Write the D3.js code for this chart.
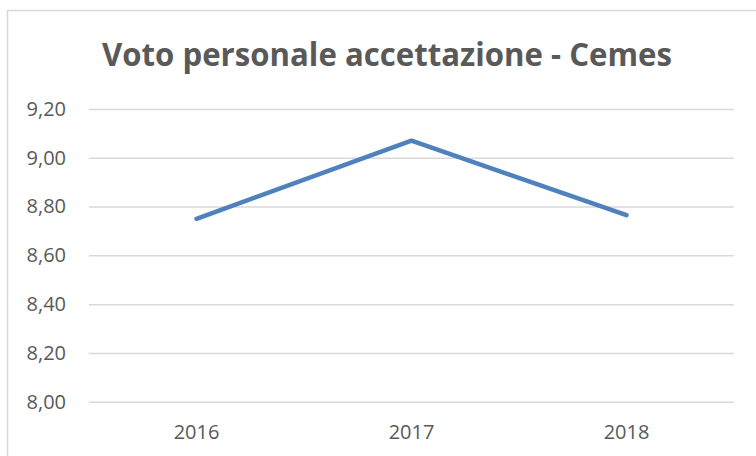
<!DOCTYPE html>
<html><head><meta charset="utf-8">
<script src="https://cdn.jsdelivr.net/npm/d3@7"></script>
<style>html,body{margin:0;padding:0;background:#fff;}svg{display:block;}</style>
</head><body>
<script>
const title = "Voto personale accettazione - Cemes";
const years = ["2016", "2017", "2018"];
const values = [8.75, 9.07, 8.765];
const yTicks = [8.0, 8.2, 8.4, 8.6, 8.8, 9.0, 9.2];

const W = 756, H = 456;
const svg = d3.select("body").append("svg").attr("width", W).attr("height", H);
svg.append("rect").attr("x", 7.5).attr("y", 10.5).attr("width", 760).attr("height", 460)
  .attr("fill", "#fff").attr("stroke", "#d9d9d9").attr("stroke-width", 1.5);

const x = d3.scaleBand().domain(years).range([89, 734]);
const y = d3.scaleLinear().domain([8.0, 9.2]).range([401.7, 109]);
const fmt = v => d3.format(".2f")(v).replace(".", ",");
const font = "'Open Sans', 'Noto Sans', sans-serif";

svg.append("text").attr("x", 387).attr("y", 66).attr("text-anchor", "middle")
  .attr("font-family", font).attr("font-weight", "bold").attr("font-size", 32)
  .attr("textLength", 570).attr("lengthAdjust", "spacingAndGlyphs")
  .attr("fill", "#595959").text(title);

const yAxis = d3.axisLeft(y).tickValues(yTicks).tickSize(-(734 - 89)).tickFormat(fmt).tickPadding(23);
const gy = svg.append("g").attr("transform", "translate(89,0)").call(yAxis);
gy.select(".domain").remove();
gy.selectAll(".tick line").attr("stroke", "#d9d9d9").attr("stroke-width", 1.5);
gy.selectAll(".tick text").attr("font-family", font).attr("font-size", 20).attr("fill", "#595959");

const xAxis = d3.axisBottom(x).tickSize(0).tickPadding(23);
const gx = svg.append("g").attr("transform", "translate(0,401.7)").call(xAxis);
gx.select(".domain").remove();
gx.selectAll(".tick text").attr("font-family", font).attr("font-size", 20).attr("fill", "#595959");

const line = d3.line().x((d, i) => x(years[i]) + x.bandwidth() / 2).y(d => y(d));
svg.append("path").datum(values).attr("d", line).attr("fill", "none")
  .attr("stroke", "#4f81bd").attr("stroke-width", 4.5).attr("stroke-linecap", "round").attr("stroke-linejoin", "round");
</script>
</body></html>
